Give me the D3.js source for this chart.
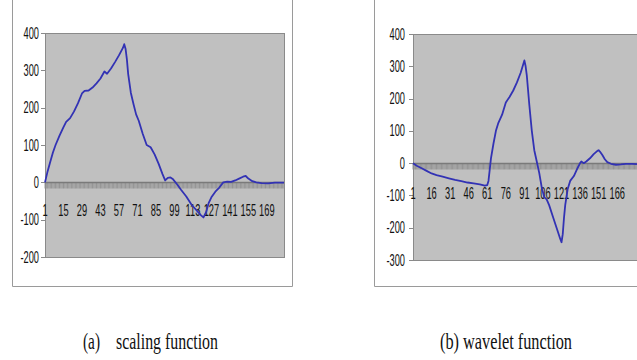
<!DOCTYPE html>
<html>
<head>
<meta charset="utf-8">
<script src="https://cdn.jsdelivr.net/npm/d3@7"></script>
<style>
  body { margin: 0; background: #fff; }
  svg { display: block; }
</style>
</head>
<body>
<script>
// values (index along the category axis, value)
var nCategories = 182;

var scalingIdx = [1, 3, 5, 7, 9, 12, 15, 17, 20, 23, 26, 29, 31, 34, 37, 40, 43, 46, 48, 51, 54, 57, 60, 61, 62, 63, 64, 66, 68, 70, 72, 75, 78, 81, 84, 87, 90, 92, 94, 96, 98, 101, 104, 108, 112, 116, 119, 121, 123, 125, 127, 130, 133, 136, 139, 142, 145, 148, 151, 153, 155, 158, 161, 165, 170, 175, 180, 182];
var scalingVal = [0, 30, 55, 80, 100, 125, 148, 162, 172, 190, 212, 238, 245, 246, 254, 265, 278, 297, 291, 305, 322, 340, 360, 370, 358, 330, 290, 240, 210, 182, 165, 130, 100, 94, 75, 50, 22, 5, 12, 13, 8, -5, -20, -38, -60, -76, -88, -94, -80, -55, -40, -25, -14, 0, 2, 1, 5, 10, 15, 17, 10, 3, 0, -2, -3, -1, -1, -1];

var waveletIdx = [1, 4, 8, 12, 16, 20, 25, 30, 35, 40, 45, 50, 55, 59, 61, 62, 63, 64, 66, 68, 70, 73, 76, 79, 82, 85, 88, 91, 92, 93, 95, 97, 99, 101, 103, 105, 107, 109, 111, 114, 117, 120, 121, 122, 123, 124, 126, 128, 131, 134, 136, 137, 139, 141, 144, 147, 150, 151, 152, 154, 156, 158, 161, 165, 169, 173, 178, 182];
var waveletVal = [0, -8, -16, -24, -32, -37, -42, -47, -52, -56, -60, -63, -66, -70, -68, -55, -20, 15, 60, 100, 125, 150, 188, 205, 225, 250, 280, 318, 300, 270, 180, 100, 40, 5, -30, -75, -105, -112, -130, -165, -200, -235, -245, -220, -170, -130, -80, -55, -40, -15, 0, 5, 0, 5, 15, 28, 38, 40, 36, 25, 12, 3, -2, -5, -4, -2, -2, -3];

var scalingXTicks = [1, 15, 29, 43, 57, 71, 85, 99, 113, 127, 141, 155, 169];
var waveletXTicks = [1, 16, 31, 46, 61, 76, 91, 106, 121, 136, 151, 166];
var scalingYTicks = [400, 300, 200, 100, 0, -100, -200];
var waveletYTicks = [400, 300, 200, 100, 0, -100, -200, -300];

var W = 637, H = 360;
var svg = d3.select("body").append("svg")
    .attr("width", W)
    .attr("height", H);

// chart-area frames
svg.append("path")
    .attr("d", "M12.5,0 V286.5 H292.5 V0")
    .attr("fill", "none")
    .attr("stroke", "#9a9a9a");
svg.append("path")
    .attr("d", "M374.5,0 V286.5 H640")
    .attr("fill", "none")
    .attr("stroke", "#9a9a9a");

function panel(p) {
    var x = d3.scaleLinear().domain([1, nCategories]).range([p.left, p.right]);
    var y = d3.scaleLinear().domain(p.yDomain).range([p.bottom, p.top]);
    var g = svg.append("g");

    g.append("rect")
        .attr("x", p.left + 0.5)
        .attr("y", p.top + 0.5)
        .attr("width", p.right - p.left)
        .attr("height", p.bottom - p.top)
        .attr("fill", "#c0c0c0")
        .attr("stroke", "#8a8a8a");

    // y ticks + labels
    g.selectAll(".yt")
        .data(p.yTicks)
        .enter()
        .append("line")
        .attr("x1", p.left - 4)
        .attr("x2", p.left)
        .attr("y1", function(d) { return Math.round(y(d)) + 0.5; })
        .attr("y2", function(d) { return Math.round(y(d)) + 0.5; })
        .attr("stroke", "#8a8a8a");

    g.selectAll(".yl")
        .data(p.yTicks)
        .enter()
        .append("text")
        .text(function(d) { return d; })
        .attr("transform", function(d) {
            return "translate(" + p.yLabelX + "," + (y(d) + 5.5) + ") scale(0.58,1)";
        })
        .attr("text-anchor", "end")
        .attr("font-family", "Liberation Sans, Arial, sans-serif")
        .attr("font-size", "16px")
        .attr("fill", "#111");

    // zero axis with a minor tick on every category
    var y0 = Math.round(y(0)) + 0.5;
    g.selectAll(".mt")
        .data(d3.range(1, nCategories + 1))
        .enter()
        .append("line")
        .attr("x1", function(d) { return x(d); })
        .attr("x2", function(d) { return x(d); })
        .attr("y1", y0)
        .attr("y2", y0 + 6)
        .attr("stroke", "#909090")
        .attr("stroke-width", 0.9);
    g.append("line")
        .attr("x1", p.left)
        .attr("x2", p.right)
        .attr("y1", y0)
        .attr("y2", y0)
        .attr("stroke", "#7a7a7a")
        .attr("stroke-width", 1.4);

    g.selectAll(".xl")
        .data(p.xTicks)
        .enter()
        .append("text")
        .text(function(d) { return d; })
        .attr("transform", function(d) {
            return "translate(" + x(d) + "," + (y0 + p.xLabelDy) + ") scale(0.58,1)";
        })
        .attr("text-anchor", "middle")
        .attr("font-family", "Liberation Sans, Arial, sans-serif")
        .attr("font-size", "16px")
        .attr("fill", "#111");

    var pts = p.idx.map(function(d, i) { return [d, p.val[i]]; });
    g.append("path")
        .datum(pts)
        .attr("d", d3.line()
            .x(function(d) { return x(d[0]); })
            .y(function(d) { return y(d[1]); }))
        .attr("fill", "none")
        .attr("stroke", "#3232b4")
        .attr("stroke-width", 1.8)
        .attr("stroke-linejoin", "round");
}

panel({
    left: 45, right: 284, top: 33, bottom: 257,
    yDomain: [-200, 400], yTicks: scalingYTicks, xTicks: scalingXTicks,
    yLabelX: 39, xLabelDy: 33,
    idx: scalingIdx, val: scalingVal
});

panel({
    left: 413, right: 637, top: 34, bottom: 260,
    yDomain: [-300, 400], yTicks: waveletYTicks, xTicks: waveletXTicks,
    yLabelX: 405, xLabelDy: 35,
    idx: waveletIdx, val: waveletVal
});

// captions
var serif = "Liberation Serif, Times New Roman, serif";
svg.append("text")
    .text("(a)")
    .attr("x", 83).attr("y", 349)
    .attr("textLength", 17).attr("lengthAdjust", "spacingAndGlyphs")
    .attr("font-family", serif).attr("font-size", "24px").attr("fill", "#111");
svg.append("text")
    .text("scaling function")
    .attr("x", 116).attr("y", 349)
    .attr("textLength", 102).attr("lengthAdjust", "spacingAndGlyphs")
    .attr("font-family", serif).attr("font-size", "24px").attr("fill", "#111");
svg.append("text")
    .text("(b) wavelet function")
    .attr("x", 440).attr("y", 349)
    .attr("textLength", 132).attr("lengthAdjust", "spacingAndGlyphs")
    .attr("font-family", serif).attr("font-size", "24px").attr("fill", "#111");
</script>
</body>
</html>
